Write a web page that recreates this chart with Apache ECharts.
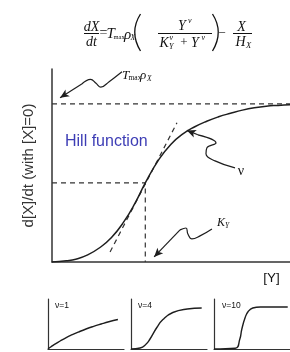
<!DOCTYPE html>
<html>
<head>
<meta charset="utf-8">
<script src="https://cdn.jsdelivr.net/npm/echarts@6/dist/echarts.min.js"></script>
<style>
  html, body { margin: 0; padding: 0; background: #fff; }
  #chart { width: 290px; height: 352px; }
</style>
</head>
<body>
<div id="chart"></div>
<script>
// main hill curve
const hillY = [0, 0.6, 1.0, 1.5, 2.0, 2.5, 3.0, 3.5, 3.92, 4.5, 5.0, 5.5, 6.0, 6.5, 7.0, 7.5, 8.0, 8.5, 9.0, 9.5, 10];
const hillV = [0, 0.008, 0.018, 0.045, 0.09, 0.155, 0.25, 0.375, 0.5, 0.65, 0.745, 0.81, 0.855, 0.89, 0.918, 0.94, 0.96, 0.975, 0.985, 0.99, 0.994];
const maxLine = [[0, 1], [10, 1]];
const halfLine = [[0, 0.5], [3.92, 0.5], [3.92, 0]];
const tangent = [[2.44, 0.063], [5.25, 0.88]];
// annotation arrows (last point is the tip)
const arrowTmax = [[2.94, 1.203], [2.4, 1.14], [2.05, 1.105], [1.85, 1.13], [1.62, 1.155], [1.25, 1.125], [0.34, 1.038]];
const arrowNu = [[7.69, 0.595], [6.85, 0.639], [6.47, 0.684], [6.51, 0.722], [6.89, 0.753], [6.13, 0.804], [5.67, 0.832]];
const arrowK = [[6.72, 0.209], [6.22, 0.165], [5.88, 0.146], [5.71, 0.177], [5.63, 0.215], [5.38, 0.203], [4.29, 0.032]];
// small panels
const p1X = [0, 0.04, 0.08, 0.16, 0.24, 0.32, 0.4, 0.5, 0.6, 0.7, 0.8, 0.92];
const p1V = [0, 0.045, 0.088, 0.16, 0.228, 0.286, 0.339, 0.4, 0.453, 0.5, 0.544, 0.59];
const p2X = [0, 0.12, 0.2, 0.25, 0.34, 0.42, 0.55, 0.74, 0.93];
const p2V = [0, 0.02, 0.1, 0.2, 0.43, 0.59, 0.73, 0.8, 0.82];
const p3X = [0, 0.28, 0.34, 0.365, 0.41, 0.45, 0.51, 0.61, 0.97];
const p3V = [0, 0.014, 0.2, 0.39, 0.63, 0.75, 0.82, 0.84, 0.84];
const panelLabels = ['ν=1', 'ν=4', 'ν=10'];

const ink = '#1e1e1e';
const chart = echarts.init(document.getElementById('chart'));

const pts = (xs, ys) => xs.map((x, i) => [x, ys[i]]);

function dashed(data) {
  return {
    type: 'line', xAxisIndex: 0, yAxisIndex: 0, data, showSymbol: false, silent: true,
    lineStyle: { color: '#333', width: 1.2, type: [5, 4] },
  };
}
function arrow(data) {
  const tip = data[data.length - 1];
  const prev = data[data.length - 2];
  return {
    type: 'line', xAxisIndex: 0, yAxisIndex: 0, data: data.slice(0, -1), smooth: 0.45,
    showSymbol: false, silent: true, lineStyle: { color: ink, width: 1.2 },
    markLine: {
      silent: true, symbol: ['none', 'arrow'], symbolSize: [6, 9],
      label: { show: false }, lineStyle: { color: ink, width: 1.2, type: 'solid' },
      data: [[{ coord: prev }, { coord: tip }]],
    },
  };
}

const axisStyle = { show: true, onZero: false, lineStyle: { color: '#333', width: 1.5 } };
const bare = { axisTick: { show: false }, axisLabel: { show: false }, splitLine: { show: false } };

const panelLeft = [48, 131, 214];
const grids = [{ left: 52, right: 0, top: 69, bottom: 90 }];
const xAxes = [{ type: 'value', gridIndex: 0, min: 0, max: 10, axisLine: axisStyle, ...bare }];
const yAxes = [{
  type: 'value', gridIndex: 0, min: 0, max: 1.22, axisLine: axisStyle, ...bare,
  name: 'd[X]/dt (with [X]=0)', nameLocation: 'middle', nameRotate: 90, nameGap: 16,
  nameTextStyle: { fontFamily: 'Liberation Sans', fontSize: 15, color: '#333' },
}];
panelLeft.forEach((l, i) => {
  grids.push({ left: l, width: 76, top: 299, height: 50 });
  xAxes.push({ type: 'value', gridIndex: i + 1, min: 0, max: 1, axisLine: { show: true, onZero: false, lineStyle: { color: '#333', width: 1.2 } }, ...bare });
  yAxes.push({ type: 'value', gridIndex: i + 1, min: 0, max: 1, axisLine: { show: true, onZero: false, lineStyle: { color: '#333', width: 1.2 } }, ...bare });
});

const panelData = [pts(p1X, p1V), pts(p2X, p2V), pts(p3X, p3V)];

const series = [
  dashed(maxLine), dashed(halfLine), dashed(tangent),
  {
    type: 'line', xAxisIndex: 0, yAxisIndex: 0, data: pts(hillY, hillV), smooth: true,
    showSymbol: false, silent: true, lineStyle: { color: ink, width: 1.5 },
  },
  arrow(arrowTmax), arrow(arrowNu), arrow(arrowK),
];
panelData.forEach((d, i) => {
  series.push({
    type: 'line', xAxisIndex: i + 1, yAxisIndex: i + 1, data: d, smooth: true,
    showSymbol: false, silent: true, lineStyle: { color: ink, width: 1.4 },
  });
});

// text pieces: [text, x, y, size, italic, align, family, colour]
const serif = 'Liberation Serif';
const sans = 'Liberation Sans';
const texts = [
  ['dX', 91.5, 27, 14, true, 'center'],
  ['dt', 91.5, 42, 14, true, 'center'],
  ['=', 103.5, 33.5, 14, false, 'center'],
  ['T', 106.5, 34, 15, true, 'left'],
  ['max', 113.5, 37, 6.5, false, 'left'],
  ['ρ', 124, 35, 15, true, 'left'],
  ['X', 130.5, 38.5, 7.5, true, 'left'],
  ['Y', 178, 26, 14, true, 'left'],
  ['ν', 188, 21, 8, true, 'left'],
  ['K', 159.5, 43, 14, true, 'left'],
  ['ν', 169.5, 38, 8, true, 'left'],
  ['Y', 169, 47, 8, true, 'left'],
  ['+', 184, 43, 13, false, 'center'],
  ['Y', 191, 43, 14, true, 'left'],
  ['ν', 201.5, 38, 8, true, 'left'],
  ['−', 222, 33.5, 13, false, 'center'],
  ['X', 241.5, 27, 14, true, 'center'],
  ['H', 235.5, 42, 14, true, 'left'],
  ['X', 246, 45.5, 8.5, true, 'left'],
  ['T', 122, 76, 13, true, 'left'],
  ['max', 128.5, 78.5, 7.5, false, 'left'],
  ['ρ', 140, 76, 13, true, 'left'],
  ['X', 147, 79.5, 7.5, true, 'left'],
  ['ν', 241, 171, 14, false, 'center'],
  ['K', 217, 223, 12, true, 'left'],
  ['Y', 225, 226.5, 7.5, true, 'left'],
  ['[Y]', 271.5, 278, 13.5, false, 'center', sans],
  ['Hill function', 65, 142, 16, false, 'left', sans, '#3d3db5'],
  [panelLabels[0], 55, 305.5, 8.5, false, 'left', sans],
  [panelLabels[1], 138, 305.5, 8.5, false, 'left', sans],
  [panelLabels[2], 222, 305.5, 8.5, false, 'left', sans],
];
const graphic = texts.map(([t, x, y, s, it, a, fam, col]) => ({
  type: 'text', x, y, silent: true,
  style: {
    text: t, font: `${it ? 'italic ' : ''}${s}px "${fam || serif}"`,
    align: a, textAlign: a, verticalAlign: 'middle', textVerticalAlign: 'middle',
    fill: col || '#111',
  },
}));
const rule = (x1, x2, y) => ({ type: 'line', silent: true, shape: { x1, y1: y, x2, y2: y }, style: { stroke: '#111', lineWidth: 1 } });
graphic.push(rule(84, 99, 33.5), rule(158, 212, 33.5), rule(233, 252, 33.5));
graphic.push(
  { type: 'bezierCurve', silent: true, shape: { x1: 140.5, y1: 14, cpx1: 129, cpy1: 32, x2: 140.5, y2: 51 }, style: { stroke: '#111', lineWidth: 1.3, fill: null } },
  { type: 'bezierCurve', silent: true, shape: { x1: 212.5, y1: 14, cpx1: 224, cpy1: 32, x2: 212.5, y2: 51 }, style: { stroke: '#111', lineWidth: 1.3, fill: null } }
);

chart.setOption({
  backgroundColor: '#fff',
  animation: false,
  grid: grids,
  xAxis: xAxes,
  yAxis: yAxes,
  series,
  graphic,
});
</script>
</body>
</html>
